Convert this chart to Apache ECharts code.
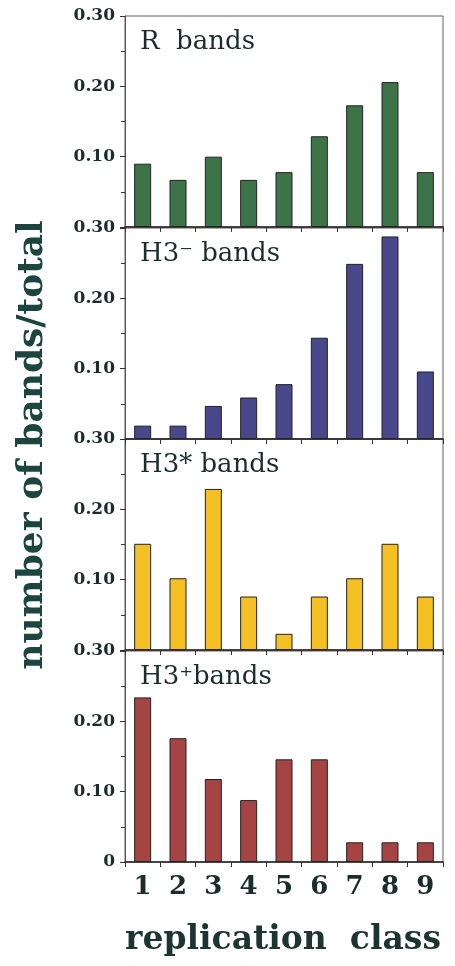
<!DOCTYPE html>
<html>
<head>
<meta charset="utf-8">
<script src="https://cdn.jsdelivr.net/npm/echarts@6/dist/echarts.min.js"></script>
<style>
  html, body { margin: 0; padding: 0; background: #fff; }
  #chart { width: 455px; height: 966px; }
</style>
</head>
<body>
<div id="chart"></div>
<script>
// replication classes
var classes = ['1', '2', '3', '4', '5', '6', '7', '8', '9'];

// fraction of bands per class
var rBands      = [0.090, 0.067, 0.100, 0.067, 0.078, 0.129, 0.173, 0.206, 0.078];
var h3MinBands  = [0.019, 0.019, 0.047, 0.059, 0.078, 0.144, 0.249, 0.288, 0.096];
var h3StarBands = [0.151, 0.102, 0.229, 0.076, 0.023, 0.076, 0.102, 0.151, 0.076];
var h3PlusBands = [0.234, 0.176, 0.118, 0.088, 0.146, 0.146, 0.028, 0.028, 0.028];

var panelNames  = ['R  bands', 'H3\u207B bands', 'H3* bands', 'H3\u207Abands'];
var panelData   = [rBands, h3MinBands, h3StarBands, h3PlusBands];
var panelColors = ['#3c7448', '#48488a', '#f5c024', '#a64343'];

var serif = 'DejaVu Serif';
var ink = '#1b2d2b';

var tops = [16, 228, 439, 651];
var grids = [], xAxes = [], yAxes = [], series = [], titles = [];

for (var i = 0; i < 4; i++) {
    var last = (i == 3);
    grids.push({
        left: 125, width: 318, top: tops[i], height: 211,
        show: true, borderColor: '#6e5a60', borderWidth: 1, backgroundColor: 'transparent'
    });
    titles.push({
        text: panelNames[i],
        left: 140, top: tops[i] + 13, padding: 0,
        textStyle: { fontFamily: serif, fontSize: 26, fontWeight: 'normal', color: ink }
    });
    xAxes.push({
        type: 'category', gridIndex: i, data: classes,
        axisLine: { lineStyle: { color: '#222', width: 1.5 } },
        axisTick: { show: true, length: 5, lineStyle: { color: '#333' } },
        axisLabel: {
            show: last, margin: 12,
            fontFamily: serif, fontSize: 26, fontWeight: 'bold', color: ink
        }
    });
    yAxes.push({
        type: 'value', gridIndex: i, min: 0, max: 0.3, interval: 0.1,
        axisLine: { show: true, lineStyle: { color: '#6e4a4a', width: 1 } },
        axisTick: { show: true, length: 5, lineStyle: { color: '#333' } },
        minorTick: { show: true, splitNumber: 2, length: 4, lineStyle: { color: '#333' } },
        splitLine: { show: false },
        axisLabel: {
            showMinLabel: last, margin: 10,
            fontFamily: serif, fontSize: 17, fontWeight: 'bold', color: ink,
            formatter: function (v) { return v == 0 ? '0' : v.toFixed(2); }
        }
    });
    series.push({
        type: 'bar', xAxisIndex: i, yAxisIndex: i,
        data: panelData[i], barWidth: 17,
        itemStyle: { color: panelColors[i], borderColor: '#222', borderWidth: 1 }
    });
}

var chart = echarts.init(document.getElementById('chart'));
chart.setOption({
    animation: false,
    backgroundColor: '#fff',
    title: titles,
    grid: grids,
    xAxis: xAxes,
    yAxis: yAxes,
    series: series,
    graphic: [
        {
            type: 'text', x: 33, y: 445, rotation: Math.PI / 2,
            style: {
                text: 'number of bands/total',
                fontFamily: serif, fontSize: 36, fontWeight: 'bold',
                fill: '#1d453f', align: 'center', verticalAlign: 'middle'
            }
        },
        {
            type: 'text', x: 283, y: 940,
            style: {
                text: 'replication  class',
                fontFamily: serif, fontSize: 33, fontWeight: 'bold',
                fill: '#1d3530', align: 'center', verticalAlign: 'middle'
            }
        }
    ]
});
</script>
</body>
</html>
